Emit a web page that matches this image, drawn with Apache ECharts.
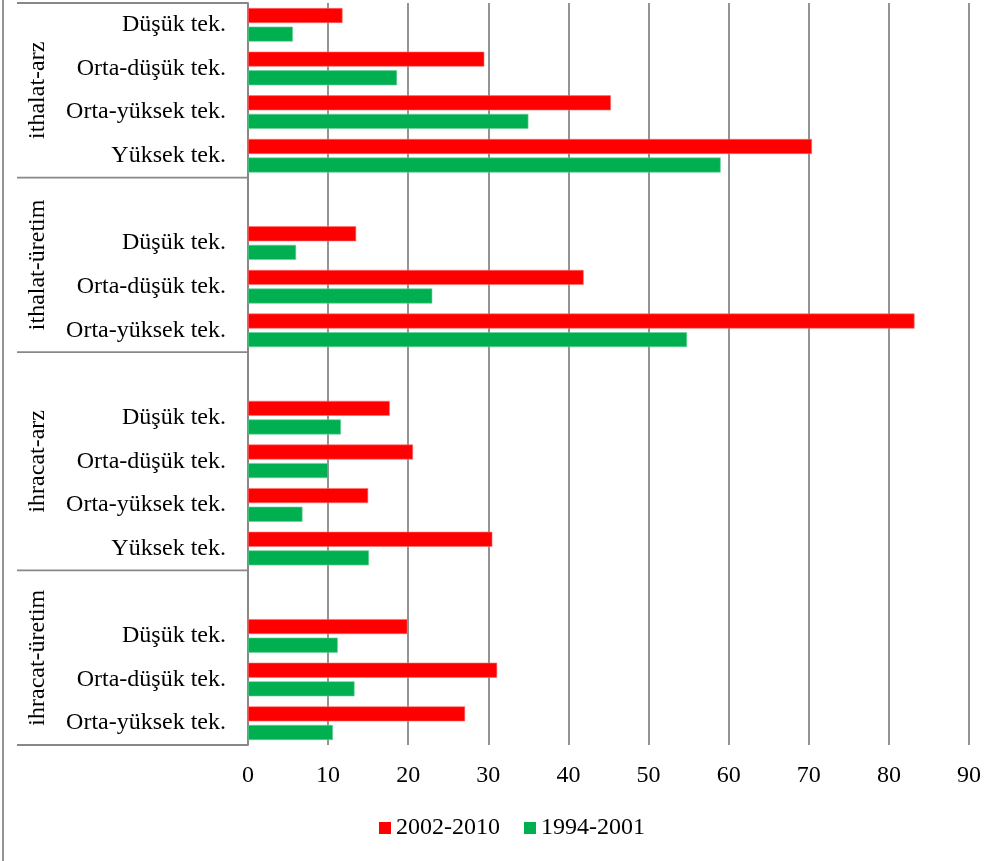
<!DOCTYPE html>
<html>
<head>
<meta charset="utf-8">
<script src="https://cdn.jsdelivr.net/npm/echarts@6/dist/echarts.min.js"></script>
<style>
  html, body { margin: 0; padding: 0; background: #fff; }
  #chart { width: 1003px; height: 861px; }
</style>
</head>
<body>
<div id="chart"></div>
<script>
// Category slots, top to bottom; empty strings are spacer rows between groups
const categories = [
  'Düşük tek.', 'Orta-düşük tek.', 'Orta-yüksek tek.', 'Yüksek tek.',
  '', 'Düşük tek.', 'Orta-düşük tek.', 'Orta-yüksek tek.',
  '', 'Düşük tek.', 'Orta-düşük tek.', 'Orta-yüksek tek.', 'Yüksek tek.',
  '', 'Düşük tek.', 'Orta-düşük tek.', 'Orta-yüksek tek.'
];

const period2002_2010 = [
  11.8, 29.5, 45.3, 70.4,
  null, 13.5, 41.9, 83.2,
  null, 17.7, 20.6, 15.0, 30.5,
  null, 19.9, 31.1, 27.1
];

const period1994_2001 = [
  5.6, 18.6, 35.0, 59.0,
  null, 6.0, 23.0, 54.8,
  null, 11.6, 10.0, 6.8, 15.1,
  null, 11.2, 13.3, 10.6
];

// Group labels and the category slot ranges they span (first, last index)
const groupNames = ['ithalat-arz', 'ithalat-üretim', 'ihracat-arz', 'ihracat-üretim'];
const groupSpans = [[0, 3], [4, 7], [8, 12], [13, 16]];

const seriesNames = ['2002-2010', '1994-2001'];
const valueTicks = { min: 0, max: 90, interval: 10 };

const FONT = "'Liberation Serif', 'Times New Roman', serif";
const LINE = '#888888';
const FS = 24;

const chart = echarts.init(document.getElementById('chart'), null, { renderer: 'canvas' });

chart.setOption({
  animation: false,
  backgroundColor: '#ffffff',
  textStyle: { fontFamily: FONT },
  grid: { left: 248, right: 34, top: 3, bottom: 116, containLabel: false },
  legend: {
    left: 374,
    top: 811,
    itemWidth: 12,
    itemHeight: 12,
    itemGap: 24,
    icon: 'rect',
    data: seriesNames,
    itemStyle: { borderWidth: 0 },
    textStyle: { fontFamily: FONT, fontSize: FS, color: '#000' }
  },
  xAxis: {
    type: 'value',
    min: valueTicks.min,
    max: valueTicks.max,
    interval: valueTicks.interval,
    axisLine: { show: false },
    axisTick: { show: false },
    splitLine: { show: true, lineStyle: { color: LINE, width: 1.8 } },
    axisLabel: { fontFamily: FONT, fontSize: FS, color: '#000', margin: 19 }
  },
  yAxis: {
    type: 'category',
    inverse: true,
    data: categories,
    axisLine: { show: true, lineStyle: { color: LINE, width: 1.8 } },
    axisTick: { show: false },
    axisLabel: { fontFamily: FONT, fontSize: FS, color: '#000', margin: 22, interval: 0 }
  },
  series: [
    {
      name: seriesNames[0],
      type: 'bar',
      data: period2002_2010,
      barWidth: 15,
      barGap: '24%',
      itemStyle: { color: '#ff0000', borderColor: '#ff7070', borderWidth: 0.6 }
    },
    {
      name: seriesNames[1],
      type: 'bar',
      data: period1994_2001,
      barWidth: 15,
      barGap: '24%',
      itemStyle: { color: '#00b050', borderColor: '#66d096', borderWidth: 0.6 }
    }
  ]
});

// Group brackets: separator lines and rotated group names, placed from the category axis
function drawGroups() {
  const y0 = chart.convertToPixel({ yAxisIndex: 0 }, 0);
  const y1 = chart.convertToPixel({ yAxisIndex: 0 }, 1);
  const band = y1 - y0;
  const axisX = chart.convertToPixel({ xAxisIndex: 0 }, 0);
  const leftX = 17;
  const elements = [];

  const boundaries = [];
  groupSpans.forEach(function (span, i) {
    const top = chart.convertToPixel({ yAxisIndex: 0 }, span[0]) - band / 2;
    const bottom = chart.convertToPixel({ yAxisIndex: 0 }, span[1]) + band / 2;
    if (i === 0) boundaries.push(top);
    boundaries.push(bottom);
    elements.push({
      type: 'text',
      x: 38,
      y: (top + bottom) / 2,
      rotation: Math.PI / 2,
      style: {
        text: groupNames[i],
        font: FS + 'px ' + FONT,
        fill: '#000',
        align: 'center',
        verticalAlign: 'middle'
      }
    });
  });

  boundaries.forEach(function (y) {
    elements.push({
      type: 'line',
      shape: { x1: leftX, y1: y, x2: axisX, y2: y },
      style: { stroke: LINE, lineWidth: 1.8 }
    });
  });

  // outer frame edge on the left
  elements.push({
    type: 'line',
    shape: { x1: 3, y1: 0, x2: 3, y2: 861 },
    style: { stroke: LINE, lineWidth: 1.8 }
  });

  chart.setOption({ graphic: { elements: elements } });
}

drawGroups();
</script>
</body>
</html>
